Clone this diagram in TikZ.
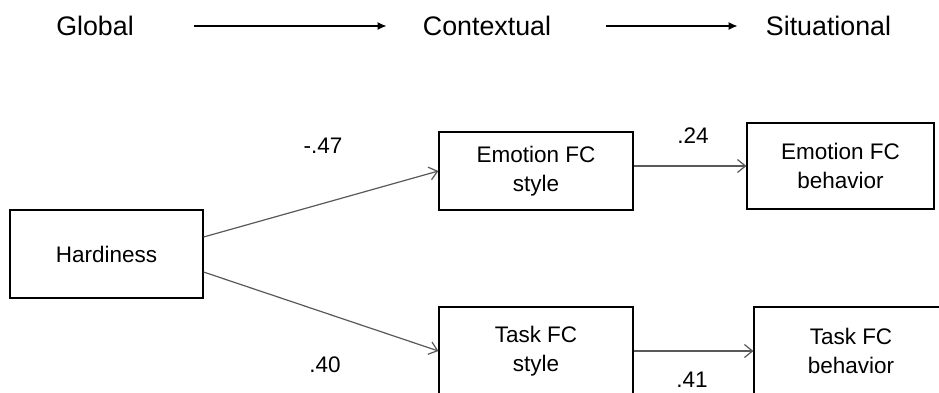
\documentclass[tikz,border=0pt]{standalone}
\usepackage{fontspec}
\setmainfont{Liberation Sans}
\usetikzlibrary{arrows.meta}
\tikzset{
  box/.style={draw=black, line width=1.2pt, inner sep=0pt, align=center,
    font=\fontsize{22.5}{29}\selectfont},
  lbl/.style={inner sep=0pt, font=\fontsize{22.5}{27}\selectfont},
  head/.style={inner sep=0pt, font=\fontsize{26.8}{32}\selectfont},
  path/.style={draw=black!65, line width=1.2pt, -{Straight Barb[length=8pt,width=13pt]}},
  level/.style={draw=black, line width=1.8pt, -{Latex[length=9pt,width=8pt]}}
}
\begin{document}
\begin{tikzpicture}[x=1pt,y=-1pt]
\clip (0,0) rectangle (939,392);
\useasboundingbox (0,0) rectangle (939,392);
\fill[white] (0,0) rectangle (939,392);
% top row
\node[head] (global) at (95,26) {Global};
\node[head] (context) at (487,26) {Contextual};
\node[head] (situ) at (828.5,26) {Situational};
\draw[level] ([xshift=60pt]global.east) -- ([xshift=-36pt]context.west);
\draw[level] ([xshift=55pt]context.east) -- ([xshift=-28pt]situ.west);
% boxes
\node[box, minimum width=193pt, minimum height=88pt] (hard) at (106.5,254) {Hardiness};
\node[box, minimum width=194pt, minimum height=78pt] (emostyle) at (536,171) {Emotion FC\\style};
\node[box, minimum width=187pt, minimum height=86pt] (emobeh) at (840.5,166) {Emotion FC\\behavior};
\node[box, minimum width=194pt, minimum height=88pt] (taskstyle) at (536,351) {Task FC\\style};
\node[box, minimum width=194pt, minimum height=88pt] (taskbeh) at (851,351) {Task FC\\behavior};
% connectors
\draw[path] ([yshift=17pt]hard.east) -- (emostyle.west);
\draw[path] ([yshift=-18pt]hard.east) -- (taskstyle.west);
\draw[path] (emostyle.east |- emobeh.west) -- (emobeh.west);
\draw[path] (taskstyle.east) -- (taskbeh.west);
% labels
\node[lbl] (l1) at (323,146) {-.47};
\node[lbl] (l2) at (325,365) {.40};
\node[lbl] (l3) at (693,136) {.24};
\node[lbl] (l4) at (692,380) {.41};
\end{tikzpicture}
\end{document}
